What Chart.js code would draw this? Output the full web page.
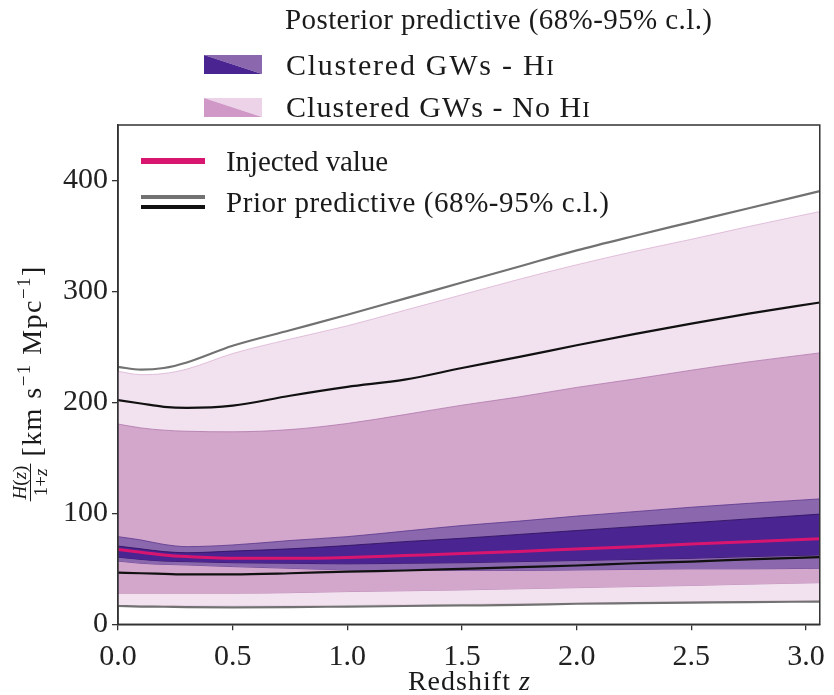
<!DOCTYPE html>
<html><head><meta charset="utf-8">
<script src="https://cdn.jsdelivr.net/npm/chart.js@4/dist/chart.umd.min.js"></script>
<style>html,body{margin:0;padding:0;background:#fff;overflow:hidden}</style>
</head><body>
<canvas id="c" width="834" height="695"></canvas>
<script>
// ---- data ----
const redshift      = [0, 0.1, 0.2, 0.3, 0.5, 0.75, 1.0, 1.25, 1.5, 1.75, 2.0, 2.25, 2.5, 2.75, 3.06];
const injected      = [67.5, 65, 62.5, 61, 59.5, 59.5, 60.3, 62, 63.7, 65.7, 67.9, 70, 72.3, 74.5, 77];
const priorUpper95  = [232, 229.5, 231, 236, 251, 265, 279, 293.5, 308, 322.5, 337, 350, 362.5, 375, 390.4];
const priorUpper68  = [202, 199, 196, 195, 197, 206, 214, 220.5, 231, 241, 251.5, 261.5, 271, 280, 290];
const priorLower68  = [46.6, 46, 45.5, 45, 45, 46, 47.5, 48.5, 50, 51.5, 53, 55, 56.5, 58.5, 60.5];
const priorLower95  = [16.5, 16, 15.8, 15.5, 15.3, 15.5, 16, 16.5, 17, 17.5, 18.5, 19, 19.5, 20, 20.5];
const noHIUpper95   = [228, 225, 226, 230, 244, 257, 269, 283, 297, 311, 324, 336, 347, 358.5, 372];
const noHIUpper68   = [180.5, 177, 175, 174, 173.5, 175.5, 181, 189, 197.5, 205, 213.5, 221, 229, 236.5, 244.6];
const noHILower68   = [28, 28, 28, 28, 28, 28.5, 29.5, 30.2, 31, 32, 33, 34, 35, 36.2, 37.5];
const noHILower95   = [17.5, 17, 17, 17, 17, 17, 17.5, 18, 18.5, 19, 19.5, 20, 20.5, 21, 21.5];
const hiUpper95     = [79, 76, 72, 70, 71.5, 75.5, 79, 84, 89, 93, 97.5, 101.5, 105.5, 109, 113];
const hiUpper68     = [70.5, 68, 65.5, 64.5, 66, 68, 71, 74.5, 77.5, 81, 84.5, 88, 91.5, 95, 99.3];
const hiLower68     = [60.5, 58.5, 57, 56.5, 55.5, 55, 54.5, 55, 55.5, 56.5, 57.5, 58.5, 59.5, 61, 62.5];
const hiLower95     = [57, 55, 54, 53.5, 52, 50.5, 49, 48.5, 48.5, 48.5, 49, 49.5, 50, 50, 50.5];
const xTicks = [0, 0.5, 1.0, 1.5, 2.0, 2.5, 3.0];
const yTicks = [0, 100, 200, 300, 400];

const SERIF = '"Liberation Serif", "Times New Roman", serif';
const C = {
  light: '#f2e2ef', lightEdge: 'rgba(215,170,205,0.7)',
  mid: '#d3a6cc', midEdge: 'rgba(170,110,165,0.7)',
  hi95: '#8b68ae', hi95Edge: 'rgba(90,55,140,0.8)',
  hi68: '#4a2490', hi68Edge: 'rgba(50,20,100,0.9)',
  inj: '#d8166f', gray: '#727272', black: '#111111'
};

const pts = arr => redshift.map((x, i) => ({x, y: arr[i]}));
function band(upper, lower, fillColor, edge, order) {
  return [
    {data: pts(upper), fill: '+1', backgroundColor: fillColor, borderColor: edge, borderWidth: 1, order},
    {data: pts(lower), fill: false, backgroundColor: fillColor, borderColor: edge, borderWidth: 1, order}
  ];
}
function line(arr, color, w, order) {
  return {data: pts(arr), fill: false, borderColor: color, borderWidth: w, order};
}

const datasets = [
  ...band(noHIUpper95, noHILower95, C.light, C.lightEdge, 10),
  ...band(noHIUpper68, noHILower68, C.mid, C.midEdge, 9),
  ...band(hiUpper95, hiLower95, C.hi95, C.hi95Edge, 8),
  ...band(hiUpper68, hiLower68, C.hi68, C.hi68Edge, 7),
  line(priorUpper95, C.gray, 2.2, 4),
  line(priorLower95, C.gray, 2.2, 4),
  line(priorUpper68, C.black, 2.2, 3),
  line(priorLower68, C.black, 2.2, 3),
  line(injected, C.inj, 3, 1)
];

// runs: [{t, font, dy}] ; spread extra width over characters so the run set spans targetW
function runsWidth(ctx, runs) {
  let w = 0;
  for (const r of runs) { ctx.font = r.font; ctx.letterSpacing = '0px'; w += ctx.measureText(r.t).width; }
  return w;
}
function drawRuns(ctx, runs, x, y, targetW) {
  const nat = runsWidth(ctx, runs);
  const nChars = runs.reduce((s, r) => s + r.t.length, 0);
  const ls = targetW ? (targetW - nat) / Math.max(1, nChars - 1) : 0;
  let cx = x;
  for (const r of runs) {
    ctx.font = r.font;
    ctx.letterSpacing = ls + 'px';
    ctx.fillText(r.t, cx, y + (r.dy || 0));
    ctx.letterSpacing = '0px';
    cx += ctx.measureText(r.t).width + ls * r.t.length;
  }
  ctx.letterSpacing = '0px';
  return cx;
}

const annot = {
  id: 'annot',
  afterDraw(chart) {
    const ctx = chart.ctx, a = chart.chartArea;
    ctx.save();
    // frame
    ctx.strokeStyle = '#333'; ctx.lineWidth = 1.5;
    ctx.strokeRect(a.left, a.top, a.right - a.left, a.bottom - a.top);

    ctx.fillStyle = '#1a1a1a';
    ctx.textBaseline = 'alphabetic';
    ctx.textAlign = 'left';
    const LF = '29px ' + SERIF, LF2 = '30px ' + SERIF, LFs = '23px ' + SERIF;

    // ---- top legend (posterior) ----
    drawRuns(ctx, [{t: 'Posterior predictive (68%-95% c.l.)', font: LF}], 285, 29, 427);
    const sw = [[C.hi68, C.hi95, 55, 'Clustered GWs - ', 75, 268],
                ['#cf98c7', '#ecd3e8', 98, 'Clustered GWs - No ', 117, 304]];
    for (const [dark, lite, y0, t1, base, tw] of sw) {
      const x0 = 204, w = 58, h = 19;
      ctx.fillStyle = lite;
      ctx.beginPath(); ctx.moveTo(x0, y0); ctx.lineTo(x0 + w, y0); ctx.lineTo(x0 + w, y0 + h); ctx.closePath(); ctx.fill();
      ctx.fillStyle = dark;
      ctx.beginPath(); ctx.moveTo(x0, y0); ctx.lineTo(x0 + w, y0 + h); ctx.lineTo(x0, y0 + h); ctx.closePath(); ctx.fill();
      ctx.fillStyle = '#1a1a1a';
      drawRuns(ctx, [{t: t1, font: LF2}, {t: 'H', font: LF2}, {t: 'I', font: LFs}], 286, base, tw);
    }

    // ---- inner legend ----
    ctx.lineCap = 'butt';
    ctx.strokeStyle = C.inj; ctx.lineWidth = 6;
    ctx.beginPath(); ctx.moveTo(141, 161); ctx.lineTo(205, 161); ctx.stroke();
    ctx.strokeStyle = C.gray; ctx.lineWidth = 4;
    ctx.beginPath(); ctx.moveTo(141, 197); ctx.lineTo(205, 197); ctx.stroke();
    ctx.strokeStyle = C.black; ctx.lineWidth = 4;
    ctx.beginPath(); ctx.moveTo(141, 207); ctx.lineTo(205, 207); ctx.stroke();
    ctx.fillStyle = '#1a1a1a';
    drawRuns(ctx, [{t: 'Injected value', font: LF}], 226, 171, 162);
    drawRuns(ctx, [{t: 'Prior predictive (68%-95% c.l.)', font: LF}], 226, 212, 383);

    // ---- x title ----
    const xr = [{t: 'Redshift ', font: '28px ' + SERIF}, {t: 'z', font: 'italic 28px ' + SERIF}];
    drawRuns(ctx, xr, (a.left + a.right) / 2 - 61, 690, 122);

    // ---- y title (rotated) ----
    ctx.translate(32, 384);
    ctx.rotate(-Math.PI / 2);
    const fracFont = 'italic 19px ' + SERIF, fracFont2 = '19px ' + SERIF;
    const numRuns = [{t: 'H', font: fracFont}, {t: '(', font: fracFont2}, {t: 'z', font: fracFont}, {t: ')', font: fracFont2}];
    const denRuns = [{t: '1+', font: fracFont2}, {t: 'z', font: fracFont}];
    const nw = runsWidth(ctx, numRuns), dw = runsWidth(ctx, denRuns);
    const fw = Math.max(nw, dw) + 4;
    const MF = '28px ' + SERIF, SF = '19px ' + SERIF;
    const mainRuns = [{t: '[km s', font: MF}, {t: '\u22121', font: SF, dy: -11}, {t: ' Mpc', font: MF}, {t: '\u22121', font: SF, dy: -11}, {t: ']', font: MF}];
    const mw = 190;
    const gap = 7;
    const total = fw + gap + mw;
    const sx = -total / 2;
    drawRuns(ctx, numRuns, sx + (fw - nw) / 2, -6);
    drawRuns(ctx, denRuns, sx + (fw - dw) / 2, 15);
    ctx.strokeStyle = '#1a1a1a'; ctx.lineWidth = 1;
    ctx.beginPath(); ctx.moveTo(sx, -1.5); ctx.lineTo(sx + fw, -1.5); ctx.stroke();
    drawRuns(ctx, mainRuns, sx + fw + gap, 9, mw);
    ctx.restore();
  }
};

const tickFont = {family: SERIF, size: 30};
new Chart(document.getElementById('c'), {
  type: 'line',
  data: {datasets},
  options: {
    responsive: false, animation: false, devicePixelRatio: 1,
    layout: {padding: {left: 0, right: 12, top: 125, bottom: 0}},
    plugins: {legend: {display: false}, tooltip: {enabled: false}},
    elements: {point: {radius: 0}, line: {cubicInterpolationMode: 'monotone'}},
    scales: {
      x: {
        type: 'linear', min: 0, max: 3.06,
        afterBuildTicks: s => { s.ticks = xTicks.map(v => ({value: v})); },
        afterFit: s => { s.height = 70.7; },
        ticks: {font: tickFont, color: '#222', maxRotation: 0, autoSkip: false, padding: 9,
                callback: v => Number(v).toFixed(1)},
        grid: {display: true, drawOnChartArea: false, drawTicks: true, tickLength: 6, color: '#333', lineWidth: 1.3},
        border: {display: true, color: '#333', width: 1.5}
      },
      y: {
        type: 'linear', min: 0, max: 450,
        afterBuildTicks: s => { s.ticks = yTicks.map(v => ({value: v})); },
        afterFit: s => { s.width = 118; },
        ticks: {font: tickFont, color: '#222', padding: 4, callback: v => String(v)},
        grid: {display: true, drawOnChartArea: false, drawTicks: true, tickLength: 6, color: '#333', lineWidth: 1.3},
        border: {display: true, color: '#333', width: 1.5}
      }
    }
  },
  plugins: [annot]
});
</script>
</body></html>
